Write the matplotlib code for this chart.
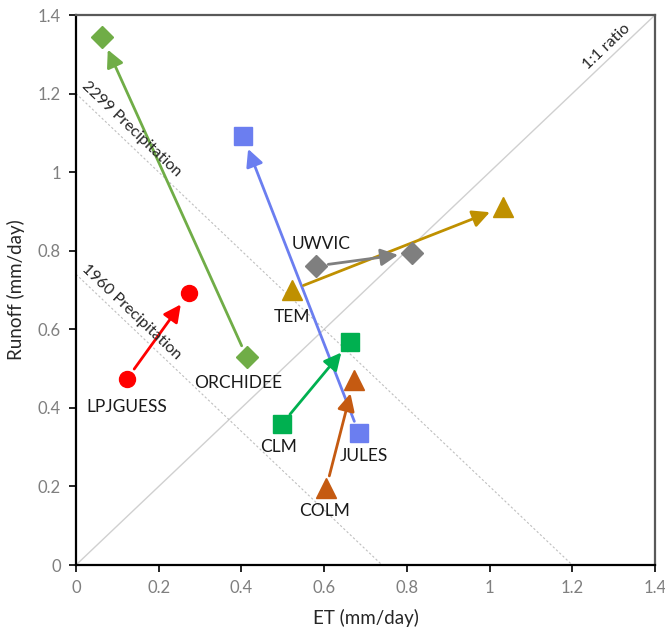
import matplotlib
matplotlib.use("Agg")
import matplotlib.pyplot as plt

plt.rcParams['font.family'] = ['Lato', 'DejaVu Sans']

models = ["ORCHIDEE", "LPJGUESS", "JULES", "CLM", "COLM", "TEM", "UWVIC"]
et_1960 = [0.413, 0.123, 0.684, 0.498, 0.605, 0.522, 0.580]
ro_1960 = [0.529, 0.473, 0.336, 0.359, 0.196, 0.700, 0.761]
et_2299 = [0.063, 0.273, 0.404, 0.663, 0.672, 1.032, 0.812]
ro_2299 = [1.344, 0.692, 1.092, 0.568, 0.471, 0.911, 0.794]
colors = ["#70AD47", "#FF0000", "#6B7EF0", "#00B050", "#C55A11", "#BF9000", "#7F7F7F"]
markers = ["D", "o", "s", "s", "^", "^", "D"]
msizes = [11, 11.5, 13.5, 13.5, 15, 15, 11]
label_x = [0.392, 0.123, 0.696, 0.489, 0.602, 0.522, 0.592]
label_y = [0.463, 0.402, 0.277, 0.300, 0.137, 0.631, 0.817]

precip_1960 = 0.74
precip_2299 = 1.2
xticks = [0, 0.2, 0.4, 0.6, 0.8, 1, 1.2, 1.4]
yticks = [0, 0.2, 0.4, 0.6, 0.8, 1, 1.2, 1.4]
tick_labels = ["0", "0.2", "0.4", "0.6", "0.8", "1", "1.2", "1.4"]

fig = plt.figure(figsize=(6.65, 6.3), dpi=100)
ax = fig.add_axes([76/665, 1-565/630, 579/665, 550/630])
ax.set_xlim(0, 1.4)
ax.set_ylim(0, 1.4)

# reference lines
ax.plot([0, 1.4], [0, 1.4], color="#D0D0D0", lw=1, zorder=1)
ax.plot([0, precip_1960], [precip_1960, 0], color="#BFBFBF", lw=0.8, ls=(0, (2, 2)), zorder=1)
ax.plot([0, precip_2299], [precip_2299, 0], color="#BFBFBF", lw=0.8, ls=(0, (2, 2)), zorder=1)

ax.text(0.133, 1.110, "2299 Precipitation", rotation=-43.5, ha="center", va="center",
        fontsize=11.5, color="#262626")
ax.text(0.133, 0.644, "1960 Precipitation", rotation=-43.5, ha="center", va="center",
        fontsize=11.5, color="#262626")
ax.text(1.284, 1.318, "1:1 ratio", rotation=43.5, ha="center", va="center",
        fontsize=11.5, color="#262626")

for i, m in enumerate(models):
    c = colors[i]
    ax.annotate("", xy=(et_2299[i], ro_2299[i]), xytext=(et_1960[i], ro_1960[i]),
                arrowprops=dict(arrowstyle="-|>,head_length=0.8,head_width=0.4",
                                color=c, lw=2, shrinkA=9, shrinkB=10, mutation_scale=13),
                zorder=2)
    ax.plot([et_1960[i], et_2299[i]], [ro_1960[i], ro_2299[i]], ls="none",
            marker=markers[i], ms=msizes[i], color=c, mec=c, zorder=3)
    ax.text(label_x[i], label_y[i], m, ha="center", va="center", fontsize=12.5,
            color="#1a1a1a")

ax.set_xticks(xticks)
ax.set_xticklabels(tick_labels)
ax.set_yticks(yticks)
ax.set_yticklabels(tick_labels)
ax.tick_params(axis="both", direction="out", length=5, width=1.2, colors="black",
               labelcolor="#7F7F7F", labelsize=12, pad=6)
for s in ["left", "bottom"]:
    ax.spines[s].set_color("black")
    ax.spines[s].set_linewidth(1.6)
for s in ["top", "right"]:
    ax.spines[s].set_color("#595959")
    ax.spines[s].set_linewidth(1.6)

ax.set_xlabel("ET (mm/day)", fontsize=13.5, color="#262626", labelpad=9)
ax.set_ylabel("Runoff (mm/day)", fontsize=13.5, color="#262626", labelpad=9)

fig.savefig("out.png", dpi=100)
